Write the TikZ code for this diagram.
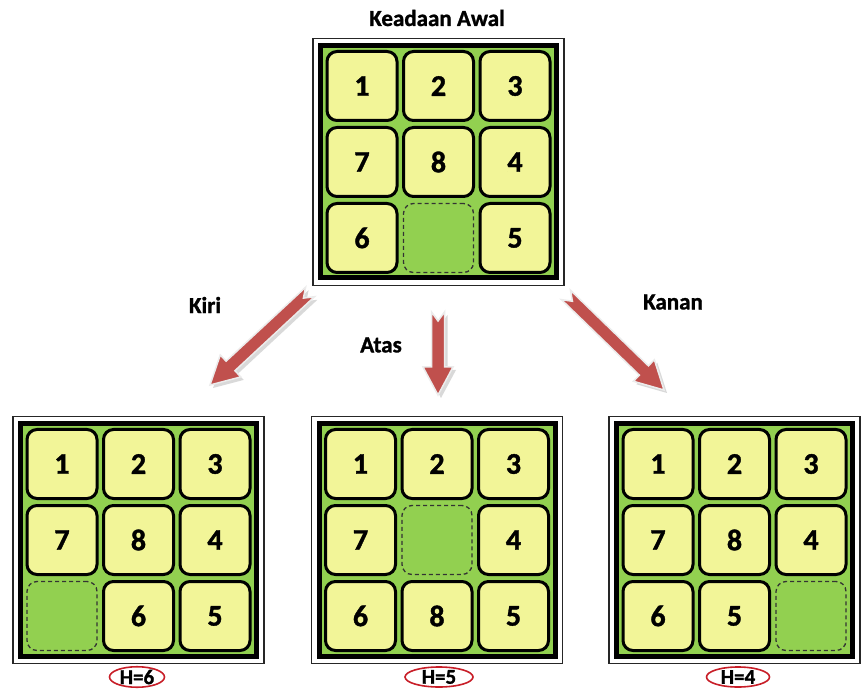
\documentclass[tikz,border=0pt]{standalone}
\usepackage{fontspec}
\setmainfont{Carlito}[BoldFeatures={FakeBold=1.2}]
\usetikzlibrary{calc,shapes.geometric}
\definecolor{pzgreen}{RGB}{146,208,80}
\definecolor{pzyellow}{RGB}{242,245,152}
\definecolor{pzred}{RGB}{192,80,77}
\definecolor{hred}{RGB}{200,30,40}

\tikzset{
  board/.style={draw=black, line width=5pt, fill=pzgreen, minimum width=236pt, minimum height=232pt, inner sep=0pt},
  boardrim/.style={draw=black!85, line width=1.5pt},
  tile/.style={draw=black, line width=3pt, fill=pzyellow, rounded corners=10pt, minimum width=70pt, minimum height=69pt, inner sep=0pt, font=\fontsize{30}{31}\selectfont\bfseries},
  emptytile/.style={draw=black!80, dash pattern=on 4pt off 3pt, line width=1.3pt, fill=pzgreen, rounded corners=10pt, minimum width=70pt, minimum height=69pt, inner sep=0pt},
  lbl/.style={font=\fontsize{23}{25}\selectfont\bfseries, inner sep=0pt},
  hlbl/.style={ellipse, draw=hred, line width=1.6pt, inner sep=0pt, font=\fontsize{21}{23}\selectfont\bfseries},
  arrowbody/.style={fill=pzred, draw=gray!15, line width=1.5pt, line join=miter},
  arrowshade/.style={fill=gray!30}
}

\newcommand{\pzboard}[3]{%
  \node[board] (#1) at (#2) {};
  \draw[boardrim] ([shift={(-5,-5)}]#1.south west) rectangle ([shift={(5,5)}]#1.north east);
  \foreach \v [count=\i from 0] in {#3} {%
    \pgfmathtruncatemacro\cc{mod(\i,3)}%
    \pgfmathtruncatemacro\rr{div(\i,3)}%
    \pgfmathsetmacro\xs{(\cc-1)*76.5}%
    \pgfmathsetmacro\ys{(1-\rr)*76}%
    \ifnum\v=0
      \node[emptytile] (#1-\i) at ([xshift=\xs pt,yshift=\ys pt]#1.center) {};
    \else
      \node[tile] (#1-\i) at ([xshift=\xs pt,yshift=\ys pt]#1.center) {\v};
    \fi
  }%
}

\newcommand{\arrowpath}[2]{%
  ($(#1)!6.5pt!90:(#2)$) -- ($(#2)!28pt!(#1)!6.5pt!-90:(#1)$) -- ($(#2)!28pt!(#1)!15pt!-90:(#1)$)
  -- (#2) -- ($(#2)!28pt!(#1)!15pt!90:(#1)$) -- ($(#2)!28pt!(#1)!6.5pt!90:(#1)$)
  -- ($(#1)!6.5pt!-90:(#2)$) -- ($(#1)!9pt!(#2)$) -- cycle}

\newcommand{\blockarrow}[2]{%
  \begin{scope}[transform canvas={xshift=3pt,yshift=-3pt}]
    \fill[arrowshade] \arrowpath{#1}{#2};
  \end{scope}
  \filldraw[arrowbody] \arrowpath{#1}{#2};
}

\begin{document}
\begin{tikzpicture}[x=1pt,y=1pt]
  \useasboundingbox (0,0) rectangle (861,691);
  \fill[white] (0,0) rectangle (861,691);

  \node[lbl] (title) at (437,673) {Keadaan Awal};

  \pzboard{top}{438.5,529}{1,2,3,7,8,4,6,0,5}
  \pzboard{left}{138.5,151}{1,2,3,7,8,4,0,6,5}
  \pzboard{mid}{437,151}{1,2,3,7,0,4,6,8,5}
  \pzboard{right}{734.5,151}{1,2,3,7,8,4,6,5,0}

  \coordinate (kiriTail) at (310,399);
  \coordinate (kiriTip) at (210,306);
  \coordinate (atasTail) at (438,379);
  \coordinate (atasTip) at (438,296);
  \coordinate (kananTail) at (566,396);
  \coordinate (kananTip) at (664,301);

  \blockarrow{kiriTail}{kiriTip}
  \blockarrow{atasTail}{atasTip}
  \blockarrow{kananTail}{kananTip}

  \node[lbl] (kiri) at (205,386) {Kiri};
  \node[lbl] (atas) at (381,346) {Atas};
  \node[lbl] (kanan) at (673,389) {Kanan};

  \node[hlbl, minimum width=55pt, minimum height=19pt] (h6) at (137,14) {H=6};
  \node[hlbl, minimum width=68pt, minimum height=20pt] (h5) at (439,14) {H=5};
  \node[hlbl, minimum width=63pt, minimum height=20pt] (h4) at (738,14) {H=4};
\end{tikzpicture}
\end{document}
